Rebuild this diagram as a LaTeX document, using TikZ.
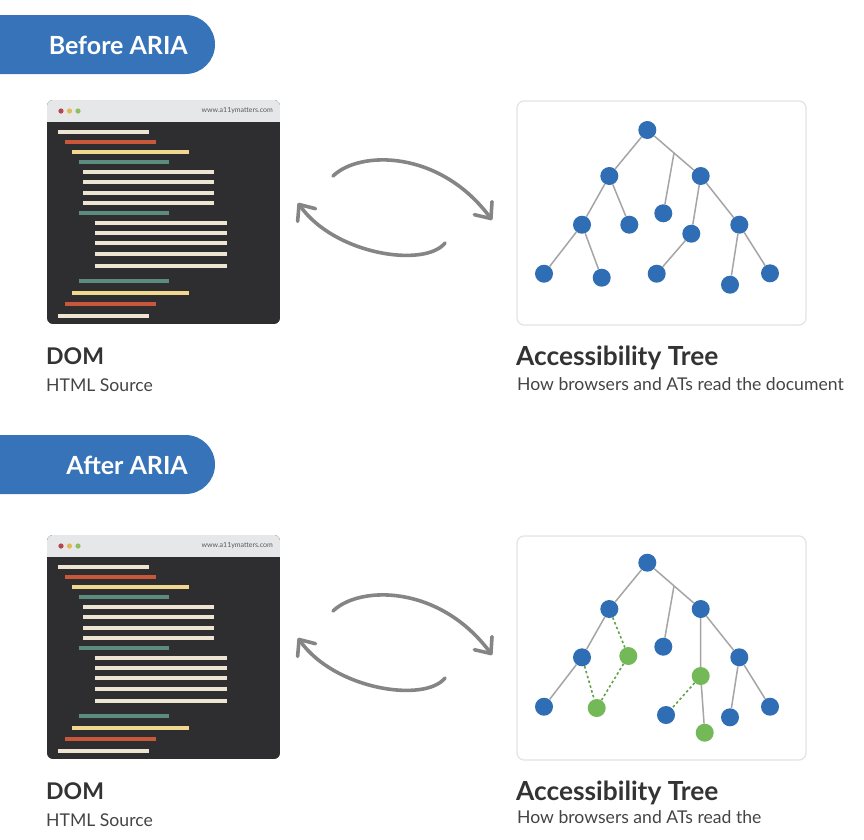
\documentclass[tikz,border=0pt]{standalone}
\usepackage{fontspec}
\setmainfont{Lato}
\usetikzlibrary{arrows.meta,positioning,calc}
\definecolor{ariablue}{HTML}{3673B9}
\definecolor{nodeblue}{HTML}{2F6DB5}
\definecolor{nodegreen}{HTML}{74B957}
\definecolor{dotgreen}{HTML}{64A04A}
\definecolor{edgegrey}{HTML}{A5A5A5}
\definecolor{arrowgrey}{HTML}{858585}
\definecolor{winbar}{HTML}{E6E7E9}
\definecolor{winbody}{HTML}{2E2D30}
\definecolor{codecream}{HTML}{EDE4D1}
\definecolor{codeorange}{HTML}{C9573A}
\definecolor{codeyellow}{HTML}{F0D88E}
\definecolor{codeteal}{HTML}{5C8C80}
\definecolor{txtdark}{HTML}{333333}
\definecolor{txtsub}{HTML}{444444}
\definecolor{boxline}{HTML}{E3E3E3}
\definecolor{dotred}{HTML}{B5474F}
\definecolor{dotyellow}{HTML}{E4B853}
\definecolor{dotgreenl}{HTML}{8FBF5E}
\tikzset{
  tn/.style={circle,fill=nodeblue,minimum size=18pt,inner sep=0pt},
  tng/.style={tn,fill=nodegreen},
  te/.style={draw=edgegrey,line width=1.5pt},
  ted/.style={draw=dotgreen,line width=1.6pt,dash pattern=on 2.5pt off 2.5pt},
  swap/.style={-{Straight Barb[round,length=13pt,width=22pt]},line width=3.6pt,
               draw=arrowgrey,line cap=round},
  bantxt/.style={text=white,font=\fontsize{25}{30}\selectfont\bfseries,inner sep=0pt},
  hd/.style={text=txtdark,font=\fontsize{23}{26}\selectfont\bfseries,inner sep=0pt},
  hdw/.style={hd,font=\fontsize{26.3}{28}\selectfont\bfseries},
  sub/.style={text=txtsub,font=\fontsize{17.6}{20}\selectfont,inner sep=0pt},
  url/.style={text=black!65,font=\fontsize{7}{8}\selectfont,inner sep=0pt},
  treebox/.style={draw=boxline,fill=white,rounded corners=7pt,line width=1.2pt},
}

\begin{document}
\begin{tikzpicture}[x=1pt,y=-1pt]
  \useasboundingbox (0,0) rectangle (864,839);

  % banners
  \fill[ariablue] (0,15) -- (185.5,15) arc[start angle=-90,end angle=90,radius=29.5] -- (0,74) -- cycle;
  \node[bantxt,anchor=base east] (before) at (188,54) {Before ARIA};
  \fill[ariablue] (0,435) -- (185.5,435) arc[start angle=-90,end angle=90,radius=29.5] -- (0,494) -- cycle;
  \node[bantxt,anchor=base east] (after) at (188,474) {After ARIA};

  % browser windows with source code
  \foreach \dy in {0,435}{
    \begin{scope}[shift={(0,\dy)}]
      \begin{scope}
        \clip[rounded corners=6pt] (47,100) rectangle (280,324);
        \fill[winbody] (47,100) rectangle (280,324);
        \fill[winbar] (47,100) rectangle (280,122);
      \end{scope}
      \fill[dotred] (61,111) circle (2.6);
      \fill[dotyellow] (69.5,111) circle (2.6);
      \fill[dotgreenl] (78,111) circle (2.6);
      \node[url,anchor=east] (addr) at (273,111) {www.a11ymatters.com};
      \foreach \xa/\xb/\yy/\cc in {
          58.3/148.7/131.7/codecream, 65.3/156/141.7/codeorange,
          72/189.3/151.7/codeyellow, 78.7/169.3/162/codeteal,
          83/214.3/172/codecream, 83/214.3/182.3/codecream,
          83/214.3/192.7/codecream, 83/214.3/202.7/codecream,
          78.7/169.3/212.7/codeteal,
          95/226.7/222.7/codecream, 95/226.7/233/codecream,
          95/226.7/243.3/codecream, 95/226.7/253.7/codecream,
          95/226.7/265.7/codecream,
          78.7/169.3/280.7/codeteal, 72/189.3/293.3/codeyellow,
          65.3/156/304.3/codeorange, 58.3/148.7/316/codecream}
        \draw[\cc,line width=4.3pt] (\xa,\yy) -- (\xb,\yy);

      % swap arrows
      \coordinate (ua) at (333,176);
      \coordinate (ub) at (492,220);
      \coordinate (la) at (445,243);
      \coordinate (lb) at (298,203);
      \draw[swap] (ua) .. controls (360,150) and (440,150) .. (ub);
      \draw[swap] (la) .. controls (425,268) and (335,255) .. (lb);

      \draw[treebox] (517,101) rectangle (806,325);
      \node[hd,anchor=base west] (dom) at (46,364) {DOM};
      \node[sub,anchor=base west] (src) at (46,391) {HTML Source};
      \node[hdw,anchor=base west] (acc) at (516,365) {Accessibility Tree};
    \end{scope}
  }
  \node[sub,anchor=base west] (how1) at (517,390) {How browsers and ATs read the document};
  \node[sub,anchor=base west] (how2) at (517,823) {How browsers and ATs read the};

  % tree before ARIA
  \node[tn] (r)   at (647.3,130) {};
  \node[tn] (a)   at (609.3,176) {};
  \node[tn] (b)   at (700.7,176) {};
  \node[tn] (m)   at (663.3,213.3) {};
  \node[tn] (a1)  at (582,224.7) {};
  \node[tn] (a2)  at (629.3,224.7) {};
  \node[tn] (b1)  at (691.3,233.7) {};
  \node[tn] (b2)  at (739.3,224.7) {};
  \node[tn] (a11) at (544,273.7) {};
  \node[tn] (a12) at (601.7,277.7) {};
  \node[tn] (b11) at (656.7,273.7) {};
  \node[tn] (b21) at (730,284.7) {};
  \node[tn] (b22) at (770,273.3) {};
  \coordinate (j) at ($(r)!0.5!(b)$);
  \draw[te] (r) -- (a) (r) -- (b) (j) -- (m)
            (a) -- (a1) (a) -- (a2) (b) -- (b1) (b) -- (b2)
            (a1) -- (a11) (a1) -- (a12) (b1) -- (b11)
            (b2) -- (b21) (b2) -- (b22);

  % tree after ARIA
  \node[tn]  (rr)   at (647.3,562.7) {};
  \node[tn]  (aa)   at (609.3,609) {};
  \node[tn]  (bb)   at (700.7,609) {};
  \node[tn]  (mm)   at (663.3,646.7) {};
  \node[tn]  (aa1)  at (582,657.3) {};
  \node[tng] (g1)   at (628.3,656) {};
  \node[tng] (g2)   at (700.7,676) {};
  \node[tn]  (bb2)  at (739.3,657.3) {};
  \node[tn]  (aa11) at (544,706.7) {};
  \node[tng] (g3)   at (596.7,708) {};
  \node[tn]  (bb11) at (666,715) {};
  \node[tng] (g4)   at (704.7,732.7) {};
  \node[tn]  (bb21) at (730,717.3) {};
  \node[tn]  (bb22) at (770,706.7) {};
  \coordinate (jj) at ($(rr)!0.5!(bb)$);
  \draw[te] (rr) -- (aa) (rr) -- (bb) (jj) -- (mm)
            (aa) -- (aa1) (aa1) -- (aa11) (bb) -- (g2) (g2) -- (g4)
            (bb) -- (bb2) (bb2) -- (bb21) (bb2) -- (bb22);
  \draw[ted] (aa) -- (g1) (aa1) -- (g3) (g1) -- (g3) (g2) -- (bb11);
\end{tikzpicture}
\end{document}
